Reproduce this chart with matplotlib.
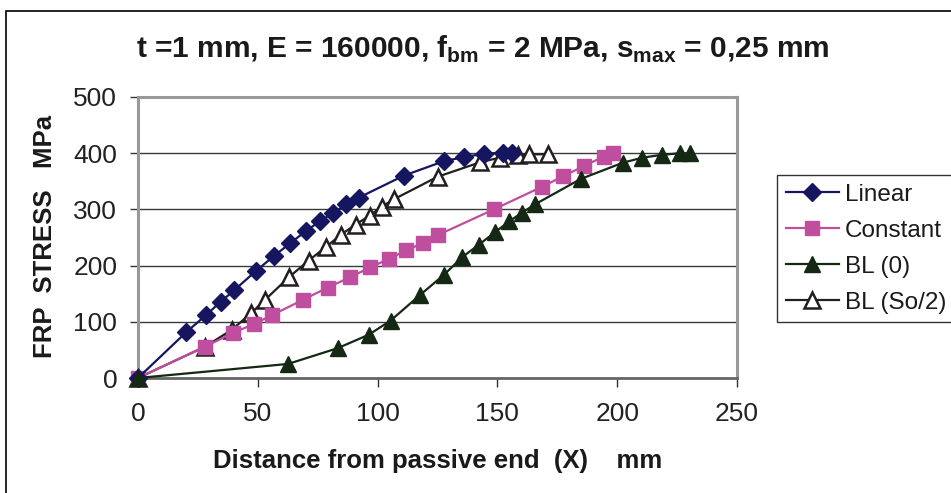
import matplotlib
matplotlib.use("Agg")
import matplotlib.pyplot as plt
from matplotlib.patches import Rectangle

plt.rcParams["font.family"] = ["Liberation Sans", "DejaVu Sans"]

# data
linear_x = [0, 20, 28.4, 34.6, 40.1, 49.1, 56.7, 63.6, 70.2, 76.0, 81.5, 87.0, 92.2, 110.9,
            127.8, 136, 144.3, 152.3, 156]
linear_y = [0, 81, 112, 136, 156, 190, 217, 240, 262, 279, 294, 309, 321, 360,
            386, 393, 399, 401, 401]

const_x = [0, 28.1, 39.5, 48.4, 56, 68.8, 79.2, 88.4, 97, 104.7, 111.9, 118.8, 125,
           148.5, 168.5, 177.4, 186.1, 194.3, 198.1]
const_y = [0, 56, 80, 96, 112, 139, 161, 179, 197, 212, 227, 240, 254,
           300, 340, 359, 377, 394, 400]

bl0_x = [0, 62.6, 83.3, 96.3, 105.4, 117.8, 127.8, 135.3, 142.2, 148.9, 155, 160.2, 165.7,
         184.7, 202.3, 210.5, 218.5, 226.4, 230.5]
bl0_y = [0, 25, 53, 77, 102, 148, 184, 215, 237, 259, 279, 294, 309,
         354, 383, 392, 397, 400, 400]

blso_x = [0, 28.1, 39.2, 47.1, 53, 62.9, 71.2, 78.4, 84.7, 90.8, 96.7, 101.8, 106.8,
          125, 142.9, 150.9, 158.8, 163, 171.2]
blso_y = [0, 56, 86, 115, 139, 179, 209, 233, 255, 273, 289, 305, 318,
          358, 384, 392, 396, 398, 398]

xticks = [0, 50, 100, 150, 200, 250]
yticks = [0, 100, 200, 300, 400, 500]

W, H = 951, 493
fig = plt.figure(figsize=(W / 100, H / 100), dpi=100)
fig.patches.append(Rectangle((6 / W, -0.1), 1.2, 1 - 11 / H + 0.1,
                             transform=fig.transFigure, fill=False,
                             edgecolor="black", linewidth=1.2))

ax = fig.add_axes([138 / W, 1 - 378 / H, (737 - 138) / W, (378 - 97) / H])

ax.plot(linear_x, linear_y, color="#161660", marker="D", markersize=9, lw=1.6,
        label="Linear", clip_on=False, zorder=5)
ax.plot(const_x, const_y, color="#c04e9e", marker="s", markersize=10, lw=1.6,
        label="Constant", clip_on=False, zorder=4)
ax.plot(bl0_x, bl0_y, color="#142814", marker="^", markersize=12, lw=1.6,
        label="BL (0)", clip_on=False, zorder=6)
ax.plot(blso_x, blso_y, color="#231f20", marker="^", markersize=11, lw=1.6,
        markerfacecolor="white", markeredgewidth=1.8,
        label="BL (So/2)", clip_on=False, zorder=3)

ax.set_xlim(0, 250)
ax.set_ylim(0, 500)
ax.set_xticks(xticks)
ax.set_yticks(yticks)
ax.tick_params(labelsize=19, width=1, color="#333333", labelcolor="#222222")
ax.tick_params(axis="x", length=6.5, pad=11)
ax.tick_params(axis="y", length=6, pad=9)

for y in yticks[1:-1]:
    ax.axhline(y, color="#3a3a3a", lw=1, zorder=1)

for side in ["left", "right", "top"]:
    ax.spines[side].set_color("#999999")
    ax.spines[side].set_linewidth(2.2)
ax.spines["bottom"].set_color("#666666")
ax.spines["bottom"].set_linewidth(2)

fig.text(483 / W, 1 - 58 / H,
         "t =1 mm, E = 160000, f$_{\\mathregular{bm}}$ = 2 MPa, "
         "s$_{\\mathregular{max}}$ = 0,25 mm",
         fontsize=21.5, fontweight="bold", ha="center", va="baseline", color="#1a1a1a")
fig.text(438 / W, 1 - 468 / H, "Distance from passive end  (X)    mm",
         fontsize=18.5, fontweight="bold", ha="center", va="baseline", color="#1a1a1a")
fig.text(45 / W, 1 - 236 / H, "FRP  STRESS   MPa", rotation=90,
         fontsize=18.5, fontweight="bold", ha="center", va="center", color="#1a1a1a")

leg = ax.legend(loc="upper left", bbox_to_anchor=(777 / W, 1 - 175 / H),
                bbox_transform=fig.transFigure, fontsize=17.5, frameon=True,
                fancybox=False, edgecolor="black", handlelength=2.2,
                borderpad=0.35, labelspacing=0.58, handletextpad=0.25,
                borderaxespad=0)
leg.get_frame().set_linewidth(1)
for t in leg.get_texts():
    t.set_color("#1a1a1a")

fig.savefig("out.png", dpi=100)
